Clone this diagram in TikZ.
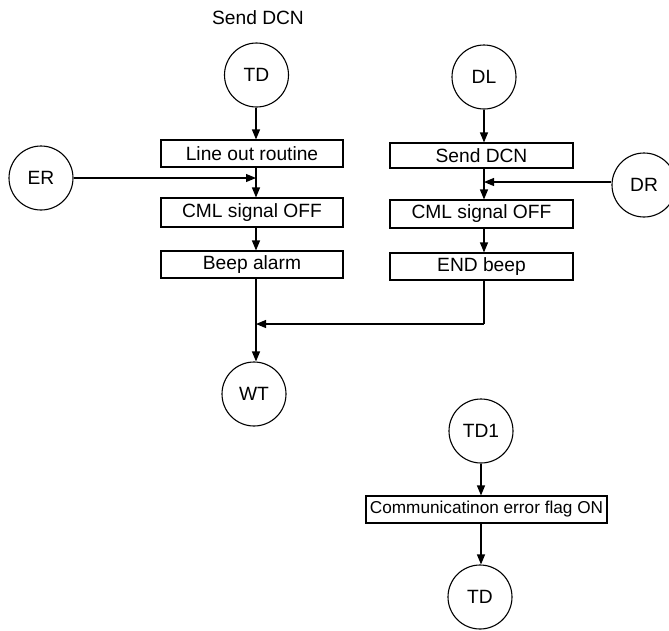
\documentclass[tikz,border=0pt]{standalone}
\usepackage{fontspec}
\setmainfont{Liberation Sans}
\usetikzlibrary{arrows.meta}
\begin{document}
\begin{tikzpicture}[x=1pt,y=-1pt,
  every node/.style={font=\fontsize{19.2}{22}\selectfont, inner sep=0pt},
  circ/.style={draw, circle, line width=1.1pt, minimum size=64pt},
  proc/.style={draw, rectangle, line width=1.1pt, minimum width=182pt, minimum height=27pt},
  arr/.style={line width=1.1pt, -{Triangle[length=10pt,width=8pt]}},
  ln/.style={line width=1.1pt}]
\useasboundingbox (0,0) rectangle (669,630);
% title
\node (title) at (258,18) {Send DCN};
% left column
\node[circ] (td) at (256.5,75) {TD};
\node[proc] (lo) at (252,153.5) {Line out routine};
\node[proc, minimum height=29pt] (cml1) at (252,212.5) {CML signal OFF};
\node[proc] (beep) at (252,264.5) {Beep alarm};
\node[circ] (er) at (41,178) {ER};
\node[circ] (wt) at (254,394) {WT};
% right column
\node[circ] (dl) at (484,77) {DL};
\node[proc, minimum width=183pt, minimum height=25pt] (sd) at (481.5,155.5) {Send DCN};
\node[proc, minimum width=183pt, minimum height=28pt] (cml2) at (481.5,214) {CML signal OFF};
\node[proc, minimum width=183pt] (endb) at (481.5,266.5) {END beep};
\node[circ] (dr) at (644,185) {DR};
% bottom group
\node[circ] (td1) at (481,431) {TD1};
\node[proc, minimum width=241pt, font=\fontsize{17.2}{20}\selectfont] (comm) at (486.5,509.5) {Communicatinon error flag ON};
\node[circ] (td2) at (480,597) {TD};
% helper coordinates
\coordinate (erin) at (256,178);
\coordinate (drin) at (484,182);
\coordinate (merge) at (256,324);
% connectors left
\draw[arr] (td.south -| erin) -- (erin |- lo.north);
\draw[arr] (erin |- lo.south) -- (erin |- cml1.north);
\draw[arr] (er.east) -- (erin);
\draw[arr] (erin |- cml1.south) -- (erin |- beep.north);
\draw[arr] (erin |- beep.south) -- (erin |- wt.north);
% connectors right
\draw[arr] (dl.south) -- (dl.south |- sd.north);
\draw[arr] (drin |- sd.south) -- (drin |- cml2.north);
\draw[arr] (dr.west |- drin) -- (drin);
\draw[arr] (drin |- cml2.south) -- (drin |- endb.north);
\draw[ln] (drin |- endb.south) -- (drin |- merge);
\draw[arr] (drin |- merge) -- (merge);
% bottom
\draw[arr] (td1.south) -- (td1.south |- comm.north);
\draw[arr] (td1.south |- comm.south) -- (td1.south |- td2.north);
\end{tikzpicture}
\end{document}
